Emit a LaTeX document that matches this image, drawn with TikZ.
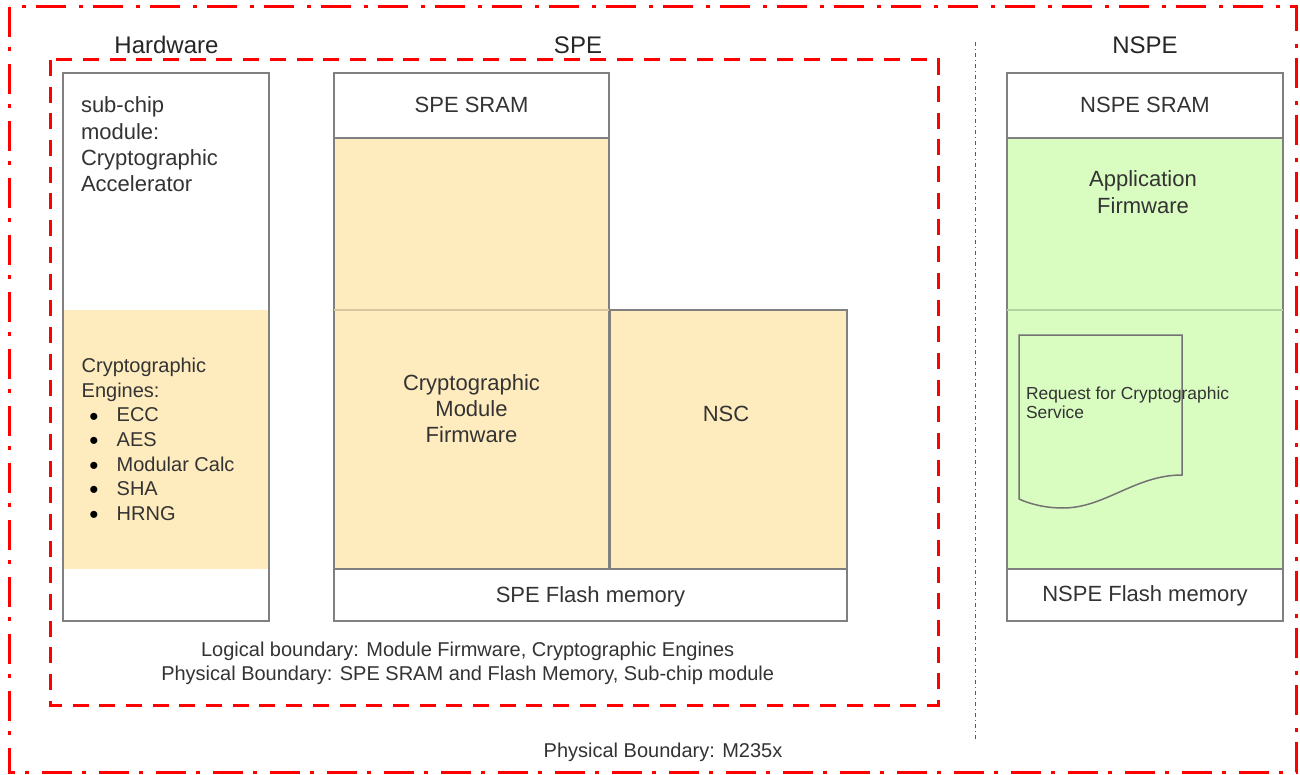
\documentclass[tikz,border=0pt]{standalone}
\usepackage{fontspec}
\setmainfont{Liberation Sans}
\definecolor{yel}{RGB}{255,236,190}
\definecolor{grn}{RGB}{217,252,192}
\definecolor{boxgray}{RGB}{128,128,128}
\definecolor{faintyel}{RGB}{214,198,158}
\definecolor{faintgrn}{RGB}{178,212,160}
\definecolor{txtgray}{RGB}{51,51,51}
\definecolor{sepgray}{RGB}{90,90,90}
\newcommand{\fsz}[2]{\fontsize{#1}{#2}\selectfont}
\newcommand{\bul}{\hspace*{7.6pt}\makebox[27.4pt][l]{\raisebox{-3.2pt}[0pt][0pt]{\fsz{26}{20}\textcolor{black}{•}}}}
\begin{document}
\begin{tikzpicture}[x=1pt,y=-1pt,
  box/.style={draw=boxgray, line width=1.8pt, rectangle, inner sep=0pt, outer sep=0pt, anchor=north west},
  txt/.style={text=txtgray, inner sep=0pt, outer sep=0pt},
  title/.style={txt, text=black!85, font=\fsz{24}{28}, anchor=base},
  lbl/.style={txt, font=\fsz{22}{26.4}, anchor=base, align=center},
  redouter/.style={draw=red, line width=3pt, dash pattern=on 30pt off 10pt on 4pt off 13pt},
  redinner/.style={draw=red, line width=3pt, dash pattern=on 16pt off 10.7pt},
  sepline/.style={draw=sepgray, line width=0.8pt, dash pattern=on 4pt off 3pt on 1pt off 3pt},
  docline/.style={draw=boxgray!90!black, line width=1.5pt}
]
\useasboundingbox (0,0) rectangle (1300,775);
\fill[white] (0,0) rectangle (1300,775);

% boundaries
\draw[redouter] (9,7) rectangle (1296,772);
\draw[redinner] (50,60) rectangle (938,705);
\coordinate (septop) at (975,42);
\coordinate (sepbot) at (975,740);
\draw[sepline] (septop) -- (sepbot);

% Hardware column
\fill[yel] (63,310) rectangle (269,569);
\node[box, minimum width=206pt, minimum height=548pt] (hw) at (63,73) {};

% SPE column
\node[box, fill=white, minimum width=275pt, minimum height=65pt] (spesram) at (334,73) {};
\node[box, fill=yel, minimum width=275pt, minimum height=431pt] (cmfw) at (334,138) {};
\draw[faintyel, line width=1.5pt] (cmfw.west |- 0,310) -- (cmfw.east |- 0,310);
\node[box, fill=yel, minimum width=237pt, minimum height=259pt] (nsc) at (610,310) {};
\node[box, fill=white, minimum width=513pt, minimum height=52pt] (speflash) at (334,569) {};

% NSPE column
\node[box, fill=white, minimum width=276pt, minimum height=65pt] (nspesram) at (1007,73) {};
\node[box, fill=grn, minimum width=276pt, minimum height=431pt] (appfw) at (1007,138) {};
\draw[faintgrn, line width=1.5pt] (appfw.west |- 0,310) -- (appfw.east |- 0,310);
\node[box, fill=white, minimum width=276pt, minimum height=52pt] (nspeflash) at (1007,569) {};
\draw[docline] (1019,335) -- (1182,335) -- (1182,475)
  .. controls (1135,475) and (1105,508) .. (1063,508)
  .. controls (1045,508) and (1030,504) .. (1019,499) -- cycle;

% titles
\node[title] (thw) at (166.5,54) {Hardware};
\node[title] (tspe) at (578,54) {SPE};
\node[title] (tnspe) at (1145,54) {NSPE};

% texts (base anchor = baseline of the last line)
\node[txt, font=\fsz{22}{26.2}, anchor=base west, align=left] (subchip) at (81,191.6)
  {sub-chip\\module:\\Cryptographic\\Accelerator};
\node[txt, font=\fsz{20}{24.6}, anchor=base west, align=left] (engines) at (81.7,520.3)
  {Cryptographic\\Engines:\\
   \bul ECC\\
   \bul AES\\
   \bul Modular Calc\\
   \bul SHA\\
   \bul HRNG};
\node[lbl] (tspesram) at (471.5,113) {SPE SRAM};
\node[lbl, font=\fsz{22}{26}] (tcmfw) at (471.5,442) {Cryptographic\\Module\\Firmware};
\node[lbl] (tnsc) at (726,421) {NSC};
\node[lbl] (tspeflash) at (590.5,602) {SPE Flash memory};
\node[lbl] (tnspesram) at (1145,113) {NSPE SRAM};
\node[lbl, font=\fsz{22}{26.6}] (tapp) at (1143,213.3) {Application\\Firmware};
\node[lbl] (tnspeflash) at (1145,601) {NSPE Flash memory};
\node[txt, font=\fsz{17.4}{19}, anchor=base west, align=left] (treq) at (1026,418.3)
  {Request for Cryptographic\\Service};
\node[txt, font=\fsz{20}{23.3}, anchor=base, align=center] (tlogical) at (467.7,680)
  {Logical boundary: Module Firmware, Cryptographic Engines\\Physical Boundary: SPE SRAM and Flash Memory, Sub-chip module};
\node[txt, font=\fsz{20}{23.3}, anchor=base] (tm235) at (663,757) {Physical Boundary: M235x};
\end{tikzpicture}
\end{document}
